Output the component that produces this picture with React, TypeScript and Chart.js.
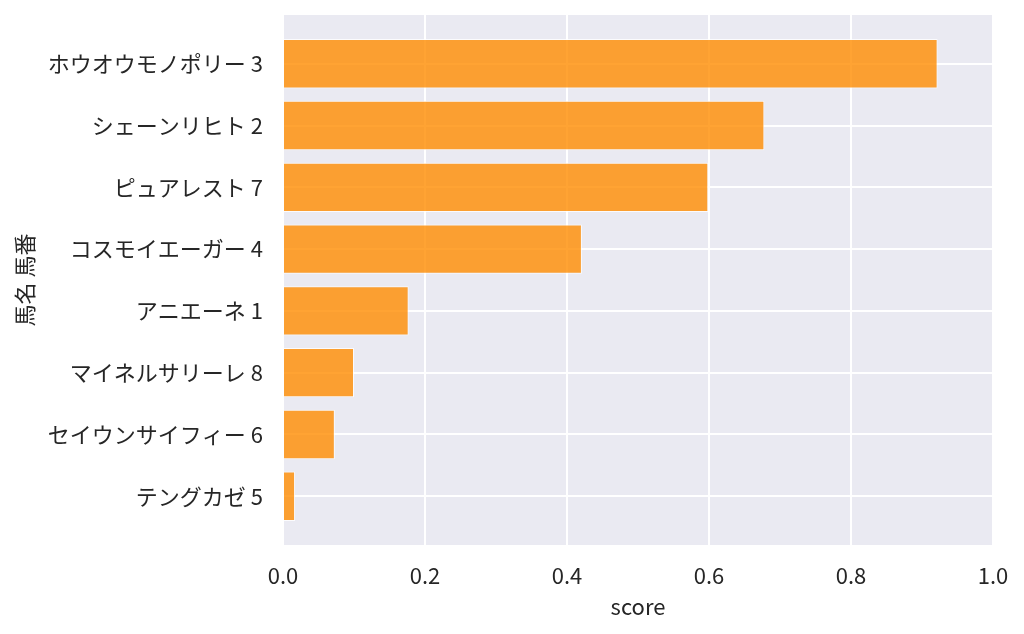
import { useEffect, useRef } from 'react';
import { Chart, registerables } from 'chart.js';

Chart.register(...registerables);

const horseNames = [
  'ホウオウモノポリー 3',
  'シェーンリヒト 2',
  'ピュアレスト 7',
  'コスモイエーガー 4',
  'アニエーネ 1',
  'マイネルサリーレ 8',
  'セイウンサイフィー 6',
  'テングカゼ 5',
];
const scores = [0.922, 0.678, 0.599, 0.421, 0.177, 0.1, 0.073, 0.017];
const xTicks = [0, 0.2, 0.4, 0.6, 0.8, 1.0];

const FONT = '"Noto Sans CJK JP", "Noto Sans", sans-serif';
const TEXT = '#262626';

// seaborn-like grey panel behind the plot
const panelBg = {
  id: 'panelBg',
  beforeDraw(chart: Chart) {
    const { ctx, chartArea } = chart;
    if (!chartArea) return;
    ctx.save();
    ctx.fillStyle = '#EAEAF2';
    ctx.fillRect(chartArea.left, chartArea.top, chartArea.right - chartArea.left, chartArea.bottom - chartArea.top);
    ctx.restore();
  },
};

function ScoreChart() {
  const chartRef = useRef<HTMLCanvasElement>(null);
  const chartInstance = useRef<Chart | null>(null);

  useEffect(() => {
    if (!chartRef.current) return;
    if (chartInstance.current) chartInstance.current.destroy();
    const ctx = chartRef.current.getContext('2d');
    if (!ctx) return;

    chartInstance.current = new Chart(ctx, {
      type: 'bar',
      data: {
        datasets: [{
          data: scores.map((v, i) => ({ x: v, y: i })),
          backgroundColor: 'rgba(255, 140, 0, 0.8)',
          borderColor: 'rgba(255, 255, 255, 0.8)',
          borderWidth: 1,
          barPercentage: 0.8,
          categoryPercentage: 1.0,
        }],
      },
      options: {
        indexAxis: 'y',
        responsive: true,
        maintainAspectRatio: false,
        animation: false,
        layout: { padding: { top: 15, right: 31, left: 0, bottom: 0 } },
        plugins: {
          legend: { display: false },
          tooltip: { enabled: false },
        },
        scales: {
          x: {
            type: 'linear',
            min: 0,
            max: 1,
            afterBuildTicks: (scale: any) => {
              scale.ticks = xTicks.map((v) => ({ value: v }));
            },
            afterFit: (scale: any) => {
              scale.height = 89;
              scale.paddingRight = 0;
            },
            grid: { color: '#FFFFFF', lineWidth: 2, drawTicks: false },
            border: { display: false },
            ticks: {
              padding: 17,
              color: TEXT,
              font: { family: FONT, size: 22 },
              callback: (v: any) => Number(v).toFixed(1),
            },
            title: {
              display: true,
              text: 'score',
              color: TEXT,
              font: { family: FONT, size: 22 },
              padding: { top: 0, bottom: 14 },
            },
          },
          y: {
            type: 'linear',
            reverse: true,
            min: -0.79,
            max: 7.79,
            offset: false,
            afterBuildTicks: (scale: any) => {
              scale.ticks = horseNames.map((_, i) => ({ value: i }));
            },
            afterFit: (scale: any) => {
              scale.width = 283;
              scale.paddingTop = 0;
              scale.paddingBottom = 0;
            },
            grid: { color: '#FFFFFF', lineWidth: 2, drawTicks: false, offset: false },
            border: { display: false },
            ticks: {
              padding: 20,
              color: TEXT,
              font: { family: FONT, size: 22 },
              callback: (v: any) => horseNames[Math.round(Number(v))] ?? '',
            },
            title: {
              display: true,
              text: '馬名 馬番',
              color: TEXT,
              font: { family: FONT, size: 22 },
              padding: { top: 11, bottom: 0 },
            },
          },
        },
      },
      plugins: [panelBg],
    });

    return () => {
      if (chartInstance.current) {
        chartInstance.current.destroy();
        chartInstance.current = null;
      }
    };
  }, []);

  return (
    <div style={{ position: 'fixed', left: 0, top: 0, width: 1024, height: 634, background: '#fff' }}>
      <canvas ref={chartRef} />
    </div>
  );
}

export default function App() {
  return <ScoreChart />;
}
